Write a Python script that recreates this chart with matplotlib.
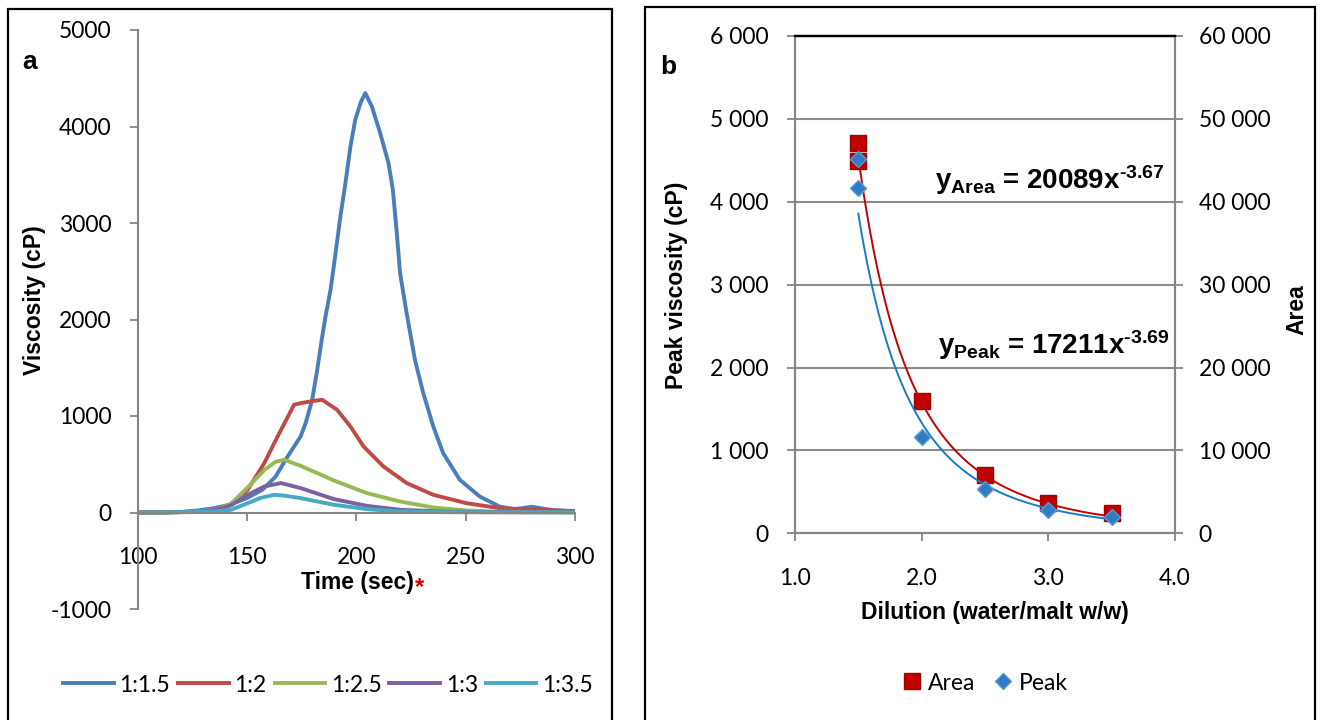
import matplotlib
matplotlib.use('Agg')
from matplotlib import pyplot as plt
from matplotlib.patches import Rectangle
from matplotlib.lines import Line2D
from matplotlib.ticker import FuncFormatter, MultipleLocator
import numpy as np

# panel a: viscosity curves (time in sec, viscosity in cP)
t_15 = [100, 110, 120, 127, 135, 142, 150, 157, 163, 168, 174.5, 176.8, 179.8, 182.1, 184.4,
        185.9, 188.2, 190.5, 192.7, 195, 197.3, 199.5, 202, 204.1, 207.1, 210.9, 214.7, 216.7,
        218.5, 220, 223, 226.8, 230.6, 235.2, 239.7, 247.3, 256.4, 265.5, 272, 276, 280, 284,
        290, 300]
v_15 = [0, 0, 5, 20, 45, 80, 150, 235, 370, 560, 788, 926, 1168, 1479, 1824,
        2031, 2308, 2688, 3067, 3413, 3793, 4070, 4250, 4346, 4207, 3932, 3621, 3344,
        2896, 2481, 2066, 1582, 1237, 891, 615, 339, 166, 62, 35, 45, 60, 45,
        25, 10]
t_2 = [100, 110, 120, 130, 137, 142.7, 150.3, 157.9, 164, 171.5, 174.5, 180, 184.4, 191.2,
       197.3, 203.3, 212.4, 223, 235.2, 250.3, 265.5, 280, 290, 300]
v_2 = [0, 0, 5, 15, 40, 90, 235, 512, 788, 1116, 1133, 1155, 1168, 1064,
       891, 684, 477, 305, 183, 97, 45, 30, 22, 15]
t_25 = [100, 110, 120, 130, 137, 142.7, 150.3, 157.9, 163, 167, 174.5, 189.7, 204.8, 220,
        235.2, 250.3, 265, 300]
v_25 = [0, 0, 5, 15, 40, 90, 260, 440, 525, 546, 484, 332, 201, 114,
        52, 21, 8, 3]
t_3 = [100, 110, 120, 130, 137, 142.7, 150.3, 158, 165.5, 174.5, 189.7, 204.8, 220, 240,
       260, 300]
v_3 = [0, 0, 5, 12, 35, 75, 183, 270, 305, 253, 139, 69, 28, 10,
       4, 2]
t_35 = [100, 110, 120, 130, 137, 142.7, 150.3, 156, 162.4, 167, 174.5, 189.7, 204.8, 220,
        240, 260, 300]
v_35 = [0, 0, 3, 8, 15, 28, 97, 150, 183, 175, 149, 80, 35, 10,
        4, 2, 1]
series_names = ['1:1.5', '1:2', '1:2.5', '1:3', '1:3.5']
series_colors = ['#4a7ebb', '#be4b48', '#98b954', '#7d60a0', '#46aac5']

# panel b: peak viscosity and area vs dilution
area_x = [1.5, 1.5, 2.0, 2.5, 3.0, 3.5]
area_y = [47100, 44900, 15940, 7000, 3620, 2410]
peak_x = [1.5, 1.5, 2.0, 2.5, 3.0, 3.5]
peak_y = [4517, 4166, 1159, 531, 278, 193]
area_coef, area_exp = 20089, -3.67
peak_coef, peak_exp = 17211, -3.69

W, H = 1321, 720
plt.rcParams['font.family'] = ['Lato', 'DejaVu Sans']
plt.rcParams['axes.unicode_minus'] = False
plt.rcParams['mathtext.fontset'] = 'custom'
plt.rcParams['mathtext.rm'] = 'Liberation Sans:bold'
plt.rcParams['mathtext.bf'] = 'Liberation Sans:bold'
plt.rcParams['mathtext.it'] = 'Liberation Sans:bold'

GRAY = '#868686'
BOLD = ['Liberation Sans', 'DejaVu Sans']


def fx(x):
    return x / W


def fy(y):
    return 1 - y / H


fig = plt.figure(figsize=(W / 100, H / 100), dpi=100)
fig.patch.set_facecolor('white')

# panel frames
fig.add_artist(Rectangle((fx(8), fy(740)), fx(612 - 8), (740 - 9) / H, fill=False,
                         edgecolor='black', lw=1.6, transform=fig.transFigure))
fig.add_artist(Rectangle((fx(645), fy(740)), fx(1315 - 645), (740 - 7) / H, fill=False,
                         edgecolor='black', lw=1.6, transform=fig.transFigure))

# ---- panel a ----
ax = fig.add_axes([fx(137.7), fy(609), fx(575 - 137.7), (609 - 30) / H])
times = [t_15, t_2, t_25, t_3, t_35]
values = [v_15, v_2, v_25, v_3, v_35]
for t, v, name, c in zip(times, values, series_names, series_colors):
    ax.plot(t, v, color=c, lw=2.8, label=name, solid_joinstyle='round')
ax.set_xlim(100, 300)
ax.set_ylim(-1000, 5000)
ax.xaxis.set_major_locator(MultipleLocator(50))
ax.yaxis.set_major_locator(MultipleLocator(1000))
for s in ['top', 'right']:
    ax.spines[s].set_visible(False)
ax.spines['bottom'].set_position(('data', 0))
for s in ['left', 'bottom']:
    ax.spines[s].set_color(GRAY)
    ax.spines[s].set_linewidth(1.5)
ax.tick_params(axis='x', direction='out', length=6, width=1.3, color=GRAY, pad=19, labelsize=16.5)
ax.tick_params(axis='y', direction='out', length=6, width=1.3, color=GRAY, pad=13, labelsize=16.5)
ax.patch.set_visible(False)

fig.text(fx(35), fy(300), 'Viscosity (cP)', rotation=90, ha='center', va='center',
         fontsize=16.5, fontweight='bold', family=BOLD)
fig.text(fx(414), fy(583), 'Time (sec)', ha='right', va='center',
         fontsize=16.5, fontweight='bold', family=BOLD)
fig.text(fx(415), fy(588), '*', ha='left', va='center', color='#d00000',
         fontsize=17, fontweight='bold', family=BOLD)
fig.text(fx(22), fy(62), 'a', ha='left', va='center', fontsize=19, fontweight='bold', family=BOLD)

fig.legend(*ax.get_legend_handles_labels(), loc='center', bbox_to_anchor=(fx(328), fy(685)),
           ncol=5, frameon=False, fontsize=16.5, handlelength=2.2, handletextpad=0.25,
           columnspacing=0.35)

# ---- panel b ----
bx = fig.add_axes([fx(795), fy(533.3), fx(1175 - 795), (533.3 - 36) / H])
bx2 = bx.twinx()
bx.set_zorder(2)
bx.patch.set_visible(False)
bx2.set_zorder(1)
bx2.patch.set_facecolor('white')

bx.set_xlim(1.0, 4.0)
bx.set_ylim(0, 6000)
bx2.set_ylim(0, 60000)
bx.xaxis.set_major_locator(MultipleLocator(1.0))
bx.yaxis.set_major_locator(MultipleLocator(1000))
bx2.yaxis.set_major_locator(MultipleLocator(10000))
bx2.grid(True, axis='both', color='#8c8c8c', lw=1.5)
bx2.set_axisbelow(True)

bx2.plot(area_x, area_y, ls='none', marker='s', ms=11.5, color='#c00000',
         mec='#a00000', mew=1, label='Area')
xs = np.linspace(1.5, 3.5, 200)
bx.plot(xs, area_coef * xs ** area_exp, color='#c00000', lw=1.4)
bx.plot(xs, peak_coef * xs ** peak_exp, color='#1a7ac8', lw=1.4)
bx.plot(peak_x, peak_y, ls='none', marker='D', ms=8.5, color='#2f7cc4',
        mec='#5b9bd5', mew=1, label='Peak')

fmt = FuncFormatter(lambda v, _: f'{int(round(v)):,}'.replace(',', ' '))
bx.yaxis.set_major_formatter(fmt)
bx2.yaxis.set_major_formatter(fmt)
bx.xaxis.set_major_formatter(FuncFormatter(lambda v, _: f'{v:.1f}'))

for a in (bx, bx2):
    for s in ['left', 'right', 'bottom']:
        a.spines[s].set_color(GRAY)
        a.spines[s].set_linewidth(1.5)
    a.spines['top'].set_color('black')
    a.spines['top'].set_linewidth(1.6)
bx.tick_params(axis='x', direction='out', length=6, width=1.3, color=GRAY, pad=19, labelsize=16.5)
bx.tick_params(axis='y', direction='out', length=6, width=1.3, color=GRAY, pad=13, labelsize=16.5)
bx2.tick_params(axis='y', direction='out', length=6, width=1.3, color=GRAY, pad=11, labelsize=16.5)

fig.text(fx(677), fy(285), 'Peak viscosity (cP)', rotation=90, ha='center', va='center',
         fontsize=16.5, fontweight='bold', family=BOLD)
fig.text(fx(1297), fy(310), 'Area', rotation=90, ha='center', va='center',
         fontsize=16.5, fontweight='bold', family=BOLD)
fig.text(fx(995), fy(613), 'Dilution (water/malt w/w)', ha='center', va='center',
         fontsize=16.5, fontweight='bold', family=BOLD)
fig.text(fx(660), fy(67), 'b', ha='left', va='center', fontsize=19, fontweight='bold', family=BOLD)

fig.text(fx(935), fy(180), r'$\mathbf{y_{Area}}$ = 20089x$^{\text{-3.67}}$', ha='left', va='center',
         fontsize=20, fontweight='bold', family=BOLD)
fig.text(fx(938), fy(345), r'$\mathbf{y_{Peak}}$ = 17211x$^{\text{-3.69}}$', ha='left', va='center',
         fontsize=20, fontweight='bold', family=BOLD)

h_area = Line2D([], [], ls='none', marker='s', ms=11.5, color='#c00000', mec='#a00000')
h_peak = Line2D([], [], ls='none', marker='D', ms=8.5, color='#2f7cc4', mec='#5b9bd5')
fig.legend([h_area, h_peak], ['Area', 'Peak'], loc='center', bbox_to_anchor=(fx(985), fy(683)),
           ncol=2, frameon=False, fontsize=16.5, handlelength=0.8, handletextpad=0.3,
           columnspacing=0.8)

fig.savefig('out.png', dpi=100, facecolor='white')
